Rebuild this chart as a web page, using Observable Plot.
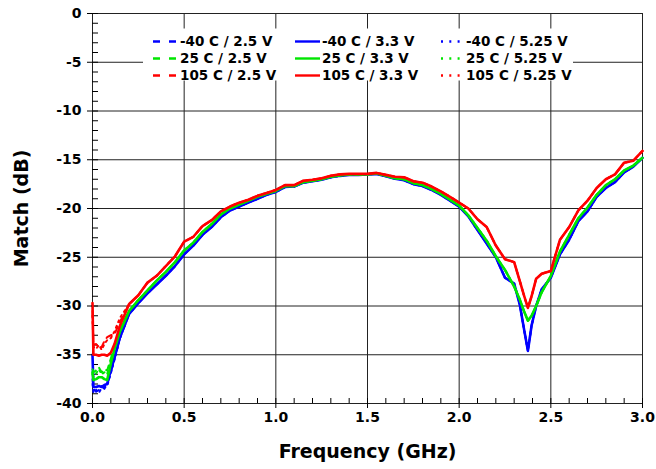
<!DOCTYPE html>
<html>
<head>
<meta charset="utf-8">
<script src="https://cdn.jsdelivr.net/npm/d3@7"></script>
<script src="https://cdn.jsdelivr.net/npm/@observablehq/plot@0.6"></script>
<style>
  html, body { margin: 0; padding: 0; background: #fff; }
  #chart { width: 656px; height: 469px; }
</style>
</head>
<body>
<div id="chart"></div>
<script>
// ---------- data ----------
const freq = [0,0.005,0.02,0.035,0.05,0.065,0.08,0.1,0.12,0.15,
  0.2,0.25,0.3,0.35,0.4,0.45,0.5,0.55,0.6,0.65,0.7,0.75,0.8,0.85,0.9,0.95,
  1.0,1.05,1.1,1.15,1.2,1.25,1.3,1.35,1.4,1.45,1.5,1.55,1.6,1.65,1.7,1.75,
  1.8,1.85,1.9,1.95,2.0,2.05,2.1,2.15,2.2,2.25,2.3,2.33,2.355,2.375,2.395,
  2.42,2.45,2.5,2.55,2.6,2.65,2.7,2.75,2.8,2.85,2.9,2.95,3.0];

// 3.3 V (solid) curves, full span
const blue33 = [-35.0,-38.3,-38.3,-38.2,-38.3,-38.1,-38.0,-36.6,-35.3,-33.2,
  -30.8,-29.7,-28.7,-27.8,-26.9,-25.9,-24.7,-23.8,-22.7,-21.9,-20.9,-20.2,-19.8,-19.4,-19.0,-18.6,
  -18.3,-17.8,-17.75,-17.35,-17.2,-17.05,-16.8,-16.65,-16.55,-16.55,-16.5,-16.45,-16.7,-16.95,-17.1,-17.5,
  -17.7,-18.1,-18.6,-19.2,-19.8,-20.8,-22.2,-23.6,-25.0,-27.1,-27.7,-29.8,-32.5,-34.6,-32.0,
  -30.0,-28.3,-27.1,-24.7,-23.2,-21.3,-20.3,-18.8,-17.9,-17.3,-16.3,-15.7,-14.8];
const green33 = [-36.8,-37.6,-37.5,-37.3,-37.3,-37.5,-37.6,-35.9,-34.4,-32.6,
  -30.5,-29.4,-28.4,-27.4,-26.5,-25.5,-24.3,-23.5,-22.4,-21.6,-20.6,-20.0,-19.6,-19.2,-18.8,-18.5,
  -18.2,-17.7,-17.7,-17.3,-17.15,-17.0,-16.75,-16.6,-16.5,-16.5,-16.5,-16.4,-16.65,-16.9,-17.0,-17.4,
  -17.6,-18.0,-18.5,-19.1,-19.7,-20.7,-22.0,-23.3,-24.9,-26.3,-28.0,-29.3,-30.6,-31.5,-31.0,
  -30.0,-28.6,-26.9,-24.4,-22.7,-21.0,-19.9,-18.6,-17.6,-17.0,-16.1,-15.6,-14.8];
const red33 = [-29.7,-35.0,-35.0,-35.1,-35.0,-35.0,-35.1,-34.8,-33.9,-32.0,
  -29.8,-28.9,-27.6,-26.9,-25.9,-24.9,-23.4,-22.9,-21.8,-21.2,-20.3,-19.8,-19.4,-19.1,-18.7,-18.4,
  -18.1,-17.6,-17.6,-17.15,-17.05,-16.9,-16.65,-16.5,-16.45,-16.45,-16.45,-16.35,-16.55,-16.75,-16.8,-17.2,
  -17.35,-17.75,-18.25,-18.8,-19.4,-20.0,-21.1,-21.9,-23.8,-25.2,-25.5,-27.4,-29.0,-30.2,-29.0,
  -27.2,-26.7,-26.4,-23.2,-21.9,-20.2,-19.2,-17.9,-17.0,-16.5,-15.3,-15.1,-14.1];

// 2.5 V (dashed) and 5.25 V (dotted): low-frequency part (0 .. 0.15 GHz);
// above that they are indistinguishable from the 3.3 V curve of the same temperature
const blue25low  = [-37.5,-38.5,-38.8,-38.6,-38.2,-38.5,-38.0,-36.8,-35.4,-33.3];
const blue525low = [-38.0,-38.9,-38.6,-38.9,-38.4,-38.3,-38.2,-36.9,-35.5,-33.3];
const green25low  = [-36.5,-36.8,-36.6,-36.3,-36.8,-36.5,-36.6,-35.4,-34.0,-32.3];
const green525low = [-37.0,-37.2,-36.9,-36.5,-37.0,-36.8,-37.0,-35.6,-34.2,-32.4];
const red25low  = [-30.5,-34.0,-33.9,-34.3,-34.2,-33.6,-33.2,-33.0,-32.9,-31.6];
const red525low = [-31.0,-34.2,-34.4,-34.0,-34.5,-33.9,-33.5,-33.3,-32.6,-31.2];

const temps = ["-40 C", "25 C", "105 C"];
const volts = ["2.5 V", "3.3 V", "5.25 V"];
const colors = ["#0000ff", "#00e600", "#ff0000"];

const xTicks = [0, 0.5, 1.0, 1.5, 2.0, 2.5, 3.0];
const yTicks = [0, -5, -10, -15, -20, -25, -30, -35, -40];

// ---------- build series ----------
const solid = [blue33, green33, red33];
const lows = [[blue25low, blue525low], [green25low, green525low], [red25low, red525low]];
function rows(vals) { return freq.map((f, i) => ({f, db: vals[i]})); }
function variant(low, full) { return rows(low.concat(full.slice(low.length))); }

const dashStyles = {"2.5 V": "6,5", "3.3 V": null, "5.25 V": "2,4"};
const widths = {"2.5 V": 2, "3.3 V": 2.6, "5.25 V": 2};

const lineMarks = [];
temps.forEach((t, ti) => {
  const series = [
    ["2.5 V", variant(lows[ti][0], solid[ti])],
    ["5.25 V", variant(lows[ti][1], solid[ti])],
    ["3.3 V", rows(solid[ti])]
  ];
  for (const [v, data] of series) {
    lineMarks.push(Plot.line(data, {
      x: "f", y: "db", stroke: colors[ti],
      strokeWidth: widths[v],
      strokeDasharray: dashStyles[v] || undefined,
      strokeLinejoin: "round"
    }));
  }
});

const W = 656, H = 469, ML = 92, MR = 14, MT = 13, MB = 66;
const xMinor = d3.range(0, 3.0001, 0.1);
const yMinor = d3.range(-40, 0.0001, 1);

const chart = Plot.plot({
  width: W, height: H,
  marginLeft: ML, marginRight: MR, marginTop: MT, marginBottom: MB,
  style: {fontFamily: "DejaVu Sans", fontSize: "14px", color: "#000", background: "#fff"},
  x: {domain: [0, 3]},
  y: {domain: [-40, 0]},
  marks: [
    Plot.gridX(xTicks, {stroke: "#222", strokeOpacity: 1, strokeWidth: 1}),
    Plot.gridY(yTicks, {stroke: "#222", strokeOpacity: 1, strokeWidth: 1}),
    Plot.tickX(xMinor, {stroke: "#000", insetTop: H - MT - MB - 5}),
    Plot.tickY(yMinor, {stroke: "#000", insetRight: W - ML - MR - 6}),
    ...lineMarks,
    Plot.axisX(xTicks, {tickSize: 5, tickPadding: 4, tickFormat: d3.format(".1f"),
      fontSize: 14, fontWeight: "bold", label: null}),
    Plot.axisY(yTicks, {tickSize: 5, tickPadding: 6, tickFormat: d => String(d),
      fontSize: 14, fontWeight: "bold", label: null}),
    Plot.text(["Frequency (GHz)"], {frameAnchor: "bottom", dy: 48, fontSize: 19,
      fontWeight: "bold", textAnchor: "middle", lineAnchor: "middle"}),
    Plot.text(["Match (dB)"], {frameAnchor: "left", dx: -71, rotate: -90, fontSize: 19,
      fontWeight: "bold", textAnchor: "middle", lineAnchor: "middle"})
  ]
});

// ---------- legend (inside the plot, on a white panel) ----------
const svg = d3.select(chart);
const lg = svg.append("g").attr("font-family", "DejaVu Sans").attr("font-weight", "bold")
  .attr("font-size", 13.5).attr("text-anchor", "start");
lg.append("rect").attr("x", 143).attr("y", 28.5).attr("width", 430).attr("height", 52).attr("fill", "#fff");
const colSwatch = [[153, 176], [295, 320], [441, 462]];
const colText = [180, 322, 466];
const rowY = [41.5, 58.5, 75.5];
const legendDash = {"2.5 V": "7,9", "3.3 V": null, "5.25 V": "2,6.3"};
volts.forEach((v, ci) => {
  temps.forEach((t, ri) => {
    const ln = lg.append("line")
      .attr("x1", colSwatch[ci][0]).attr("x2", colSwatch[ci][1])
      .attr("y1", rowY[ri]).attr("y2", rowY[ri])
      .attr("stroke", colors[ri]).attr("stroke-width", 2.4);
    if (legendDash[v]) ln.attr("stroke-dasharray", legendDash[v]);
    lg.append("text").attr("x", colText[ci]).attr("y", rowY[ri])
      .attr("dy", "0.36em").attr("fill", "#000").attr("text-anchor", "start")
      .text(`${t} / ${v}`);
  });
});

document.getElementById("chart").appendChild(chart);
</script>
</body>
</html>
